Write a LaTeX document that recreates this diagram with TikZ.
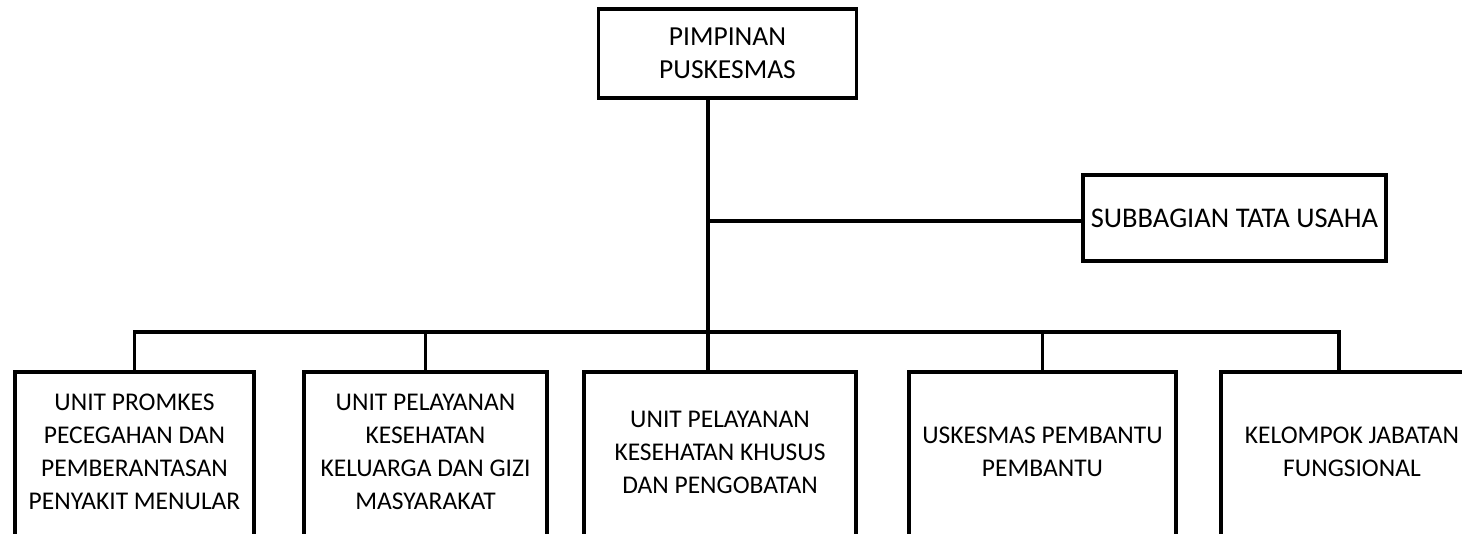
\documentclass[tikz,border=0pt]{standalone}
\usepackage{fontspec}
\setmainfont{Carlito}
\begin{document}
\begin{tikzpicture}[x=1pt,y=-1pt,
  link/.style={line width=3.5pt},
  headbox/.style={draw, line width=3.5pt, align=center, inner sep=0pt,
    font=\fontsize{27.5}{33}\selectfont},
  unitbox/.style={align=center, inner sep=0pt, minimum height=160pt,
    font=\fontsize{25.5}{33}\selectfont}]
\useasboundingbox (0,0) rectangle (1462,534);
\clip (0,0) rectangle (1462,534);

% head and staff office
\node[headbox, minimum width=258pt, minimum height=89pt] (head) at (727.5,53.5) {PIMPINAN\\PUSKESMAS};
\node[headbox, minimum width=303pt, minimum height=86pt, font=\fontsize{28.5}{33}\selectfont] (tu) at (1234.5,218) {SUBBAGIAN TATA USAHA};

% units (frames open at the bottom, running past the page edge)
\node[unitbox, minimum width=239pt] (u1) at (134.5,452) {UNIT PROMKES\\PECEGAHAN DAN\\PEMBERANTASAN\\PENYAKIT MENULAR};
\node[unitbox, minimum width=243pt] (u2) at (425.5,452) {UNIT PELAYANAN\\KESEHATAN\\KELUARGA DAN GIZI\\MASYARAKAT};
\node[unitbox, minimum width=272pt] (u3) at (720,452) {UNIT PELAYANAN\\KESEHATAN KHUSUS\\DAN PENGOBATAN};
\node[unitbox, minimum width=267pt] (u4) at (1042.5,452) {USKESMAS PEMBANTU\\PEMBANTU};
\node[unitbox, minimum width=262pt] (u5) at (1352,452) {KELOMPOK JABATAN\\FUNGSIONAL};
\foreach \n in {u1,u2,u3,u4,u5}
  \draw[link] ([yshift=-30pt]\n.south west) |- (\n.north east) -- ([yshift=-30pt]\n.south east);

% connectors
\coordinate (spine) at (708,221);
\coordinate (bus) at (708,332);
\draw[link] (head.south -| spine) -- (u3.north -| spine);
\draw[link] (spine) -- (spine -| tu.west);
\draw[link] (u1.north) -- (u1.north |- bus) -- (bus -| 1339,0) -- (1339,0 |- u5.north);
\foreach \n in {u2,u4}
  \draw[link] (\n.north) -- (\n.north |- bus);
\end{tikzpicture}
\end{document}
